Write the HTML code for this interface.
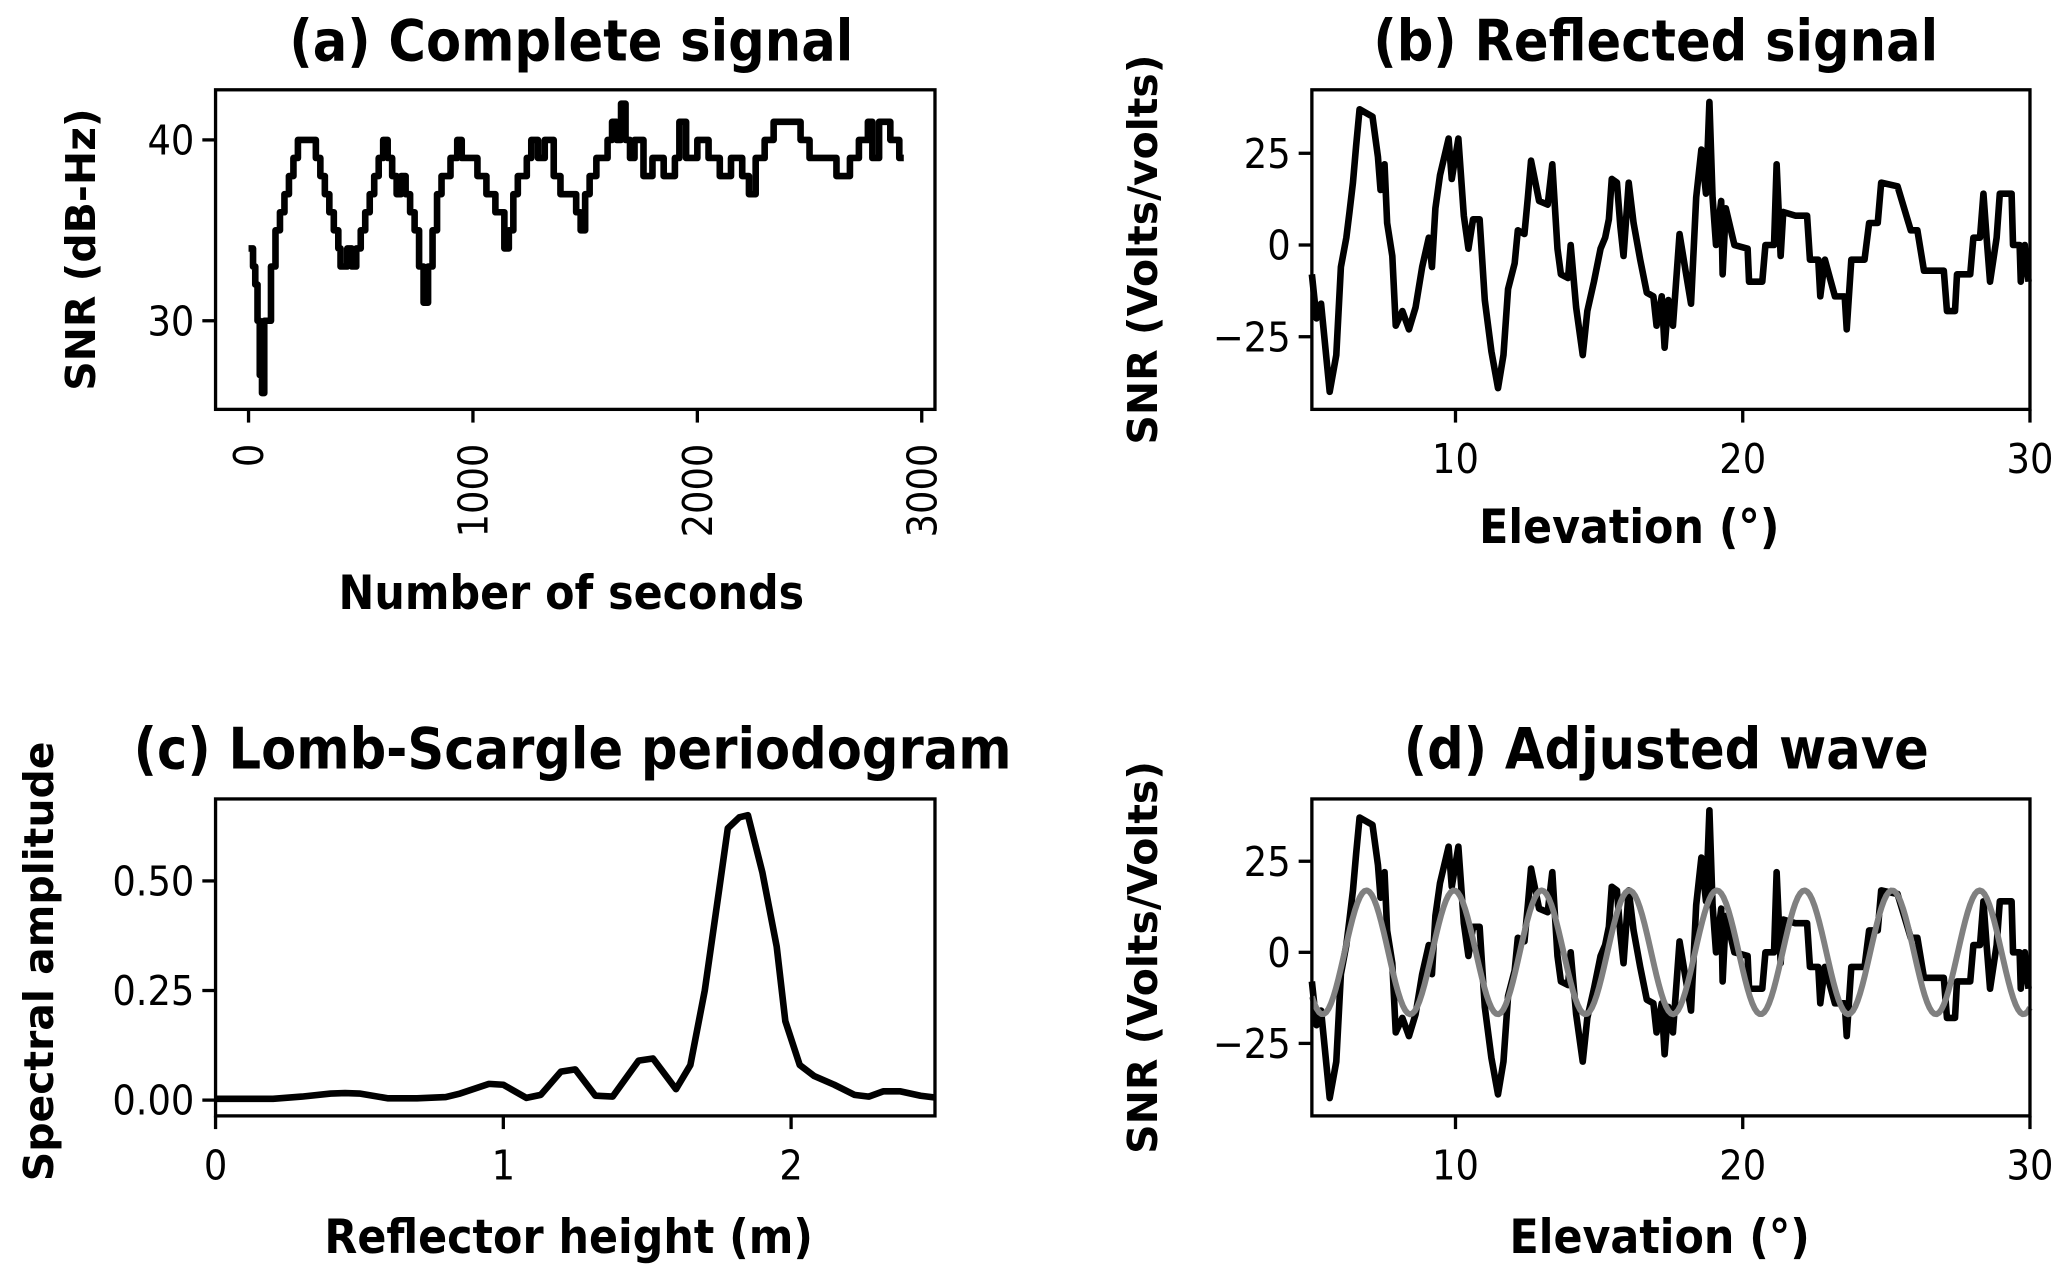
<!DOCTYPE html>
<html><head><meta charset="utf-8"><style>
html,body{margin:0;padding:0;background:#fff;}
svg{display:block;}
.tick{font-family:"DejaVu Sans Condensed","DejaVu Sans","Liberation Sans",sans-serif;font-size:31px;fill:#000;}
.title{font-family:"DejaVu Sans Condensed","DejaVu Sans","Liberation Sans",sans-serif;font-size:43px;font-weight:bold;fill:#000;}
.xl{font-family:"DejaVu Sans Condensed","DejaVu Sans","Liberation Sans",sans-serif;font-size:36px;font-weight:bold;fill:#000;}
.yl{font-family:"DejaVu Sans","Liberation Sans",sans-serif;font-size:31px;font-weight:bold;fill:#000;}
</style></head><body>
<svg id="fig" width="2067" height="1277" viewBox="0 0 1563 967" preserveAspectRatio="none" xmlns="http://www.w3.org/2000/svg"></svg>
<script>
// ---- Panel (a) data: complete signal (seconds, dB-Hz)
const aTime=[0,20,30,40,50,60,70,90,100,120,140,160,180,200,220,280,300,320,340,360,380,400,410,440,460,480,500,520,540,560,580,600,620,640,660,680,700,720,740,760,780,800,820,840,860,900,930,950,980,1020,1060,1100,1140,1160,1180,1200,1240,1260,1290,1320,1360,1390,1420,1460,1480,1500,1520,1550,1580,1600,1620,1640,1660,1680,1700,1720,1760,1800,1850,1900,1920,1950,2000,2050,2100,2150,2200,2230,2260,2300,2340,2400,2460,2500,2580,2620,2680,2720,2760,2780,2810,2860,2900,2920];
const aSnr=[34,33,32,30,27,26,30,30,33,35,36,37,38,39,40,40,39,38,37,36,35,34,33,34,33,34,35,36,37,38,39,40,39,38,37,38,37,36,35,33,31,33,35,37,38,39,40,39,39,38,37,36,34,35,37,38,39,40,39,40,38,37,37,36,35,37,38,39,39,40,41,40,42,40,39,40,38,39,38,39,41,39,40,39,38,39,38,37,39,40,41,41,40,39,39,38,39,40,41,39,41,40,39,39];
const aXTicks=[0,1000,2000,3000];
const aYTicks=[30,40];
// ---- Panel (b)/(d) data: reflected signal (elevation deg, volts/volts)
const bElev=[5.00,5.16,5.32,5.62,5.85,6.01,6.20,6.31,6.43,6.54,6.66,7.11,7.30,7.39,7.53,7.62,7.80,7.92,8.15,8.38,8.61,8.84,9.07,9.18,9.30,9.46,9.76,9.87,10.10,10.29,10.45,10.61,10.84,11.02,11.25,11.48,11.67,11.83,12.06,12.17,12.40,12.52,12.63,12.91,13.21,13.37,13.55,13.67,13.92,14.01,14.20,14.43,14.59,14.82,15.05,15.21,15.34,15.44,15.62,15.74,15.85,16.03,16.20,16.43,16.66,16.89,17.00,17.18,17.28,17.41,17.57,17.80,18.03,18.20,18.38,18.56,18.72,18.84,18.95,19.07,19.25,19.30,19.41,19.71,20.17,20.22,20.68,20.79,21.09,21.18,21.32,21.41,21.83,22.24,22.34,22.63,22.70,22.86,23.21,23.55,23.62,23.78,24.24,24.40,24.70,24.82,25.39,25.85,26.08,26.31,27.00,27.11,27.39,27.46,27.92,28.03,28.26,28.38,28.49,28.61,28.84,28.95,29.36,29.41,29.64,29.68,29.82,29.95];
const bVal=[-8,-20,-16,-40,-30,-6,2,9,17,27,37,35,24,15,22,6,-3,-22,-18,-23,-17,-6,2,-6,10,19,29,18,29,8,-1,7,7,-15,-29,-39,-30,-12,-5,4,3,13,23,12,11,22,-1,-8,-9,0,-17,-30,-18,-10,-1,2,7,18,17,5,-3,17,6,-4,-13,-14,-22,-14,-28,-15,-22,3,-8,-16,13,26,14,39,13,0,12,-8,10,0,-1,-10,-10,0,0,22,-3,9,8,8,-4,-4,-14,-4,-14,-14,-23,-4,-4,6,6,17,16,4,4,-7,-7,-18,-18,-8,-8,2,2,14,2,-10,2,14,14,0,0,-10,0,-10];
const bXTicks=[10,20,30];
const bYTicks=[-25,0,25];
// ---- Panel (d) fitted wave parameters
const fitAmp=[17];
const fitPeriod=[3.05];
const fitPeakAt=[6.9];
const fitSamples=[300];
// ---- Panel (c) data: Lomb-Scargle
const cHeight=[0,0.2,0.3,0.4,0.45,0.5,0.6,0.7,0.8,0.85,0.95,1.0,1.08,1.13,1.2,1.25,1.32,1.38,1.47,1.52,1.6,1.65,1.7,1.75,1.78,1.82,1.85,1.9,1.95,1.98,2.03,2.08,2.15,2.22,2.27,2.32,2.38,2.45,2.5];
const cAmp=[0.003,0.003,0.008,0.015,0.016,0.015,0.004,0.004,0.007,0.015,0.037,0.035,0.005,0.012,0.065,0.07,0.01,0.008,0.09,0.095,0.025,0.08,0.25,0.48,0.62,0.645,0.65,0.52,0.35,0.18,0.08,0.055,0.035,0.012,0.008,0.02,0.02,0.01,0.006];
const cXTicks=[0,1,2];
const cYTicks=[0,0.25,0.5];

const NS="http://www.w3.org/2000/svg";
const svg=document.getElementById('fig');
function mk(tag,attrs,parent){const e=document.createElementNS(NS,tag);for(const k in attrs)e.setAttribute(k,attrs[k]);(parent||svg).appendChild(e);return e;}
function scale(d0,d1,r0,r1){return v=>r0+(v-d0)/(d1-d0)*(r1-r0);}

function panel(o){
  const g=mk('g',{});
  
  
  const sx=scale(o.xd[0],o.xd[1],o.L,o.R), sy=scale(o.yd[0],o.yd[1],o.B,o.T);
  o.series.forEach(s=>{
    let d='';
    for(let i=0;i<s.x.length;i++){
      const X=sx(s.x[i]).toFixed(2),Y=sy(s.y[i]).toFixed(2);
      if(i===0)d+='M'+X+','+Y;
      else if(s.step){d+='H'+X+'V'+Y;}
      else d+='L'+X+','+Y;
    }
    const p=mk('path',{d:d,fill:'none',stroke:s.color,'stroke-width':s.w,'stroke-linejoin':'round'},g);
    
    
  });
  const fr=mk('rect',{x:o.L,y:o.T,width:o.R-o.L,height:o.B-o.T,fill:'none',stroke:'#000','stroke-width':2.5},g);
  
  
  o.xt.forEach(v=>{
    const X=sx(v);
    const t=mk('line',{x1:X,x2:X,y1:o.B,y2:o.B+10,stroke:'#000','stroke-width':2.5},g);
    
    
    let lab;
    if(o.rot){lab=mk('text',{class:'tick',x:0,y:0,'text-anchor':'end',transform:'translate('+(X+11)+','+(o.B+26)+') rotate(-90)'},g);}
    else lab=mk('text',{class:'tick',x:X,y:o.B+48,'text-anchor':'middle'},g);
    lab.textContent=o.xf(v);
    
    
  });
  o.yt.forEach(v=>{
    const Y=sy(v);
    const t=mk('line',{x1:o.L-10,x2:o.L,y1:Y,y2:Y,stroke:'#000','stroke-width':2.5},g);
    
    
    const lab=mk('text',{class:'tick',x:o.L-16,y:Y+11,'text-anchor':'end'},g);
    lab.textContent=o.yf(v);
    
    
  });
  const ti=mk('text',{class:'title',x:o.tx,y:o.ty,'text-anchor':'middle'},g);
  ti.textContent=o.title;
  
  
  const xl=mk('text',{class:'xl',x:o.xlx,y:o.xly,'text-anchor':'middle'},g);
  xl.textContent=o.xlabel;
  
  
  const yl=mk('text',{class:'yl',x:0,y:0,'text-anchor':'middle',transform:'translate('+o.ylx+','+o.yly+') rotate(-90)'},g);
  yl.textContent=o.ylabel;
  
  
}
const minus=v=>v<0?'\u2212'+Math.abs(v):String(v);

panel({name:'panel-a-complete-signal',L:163,R:707,T:68,B:310,xd:[-147,3059],yd:[25.1,42.77],
  series:[{x:aTime,y:aSnr,step:true,color:'#000',w:5,name:'snr-line'}],
  xt:aXTicks,yt:aYTicks,rot:true,xf:String,yf:String,
  title:'(a) Complete signal',tx:432,ty:46,xlabel:'Number of seconds',xlx:432,xly:461,
  ylabel:'SNR (dB-Hz)',ylx:72,yly:189});

panel({name:'panel-b-reflected-signal',L:992,R:1535,T:68,B:310,xd:[5,30],yd:[-44.8,42.3],
  series:[{x:bElev,y:bVal,step:false,color:'#000',w:5,name:'reflected-line'}],
  xt:bXTicks,yt:bYTicks,xf:String,yf:minus,
  title:'(b) Reflected signal',tx:1252,ty:46,xlabel:'Elevation (°)',xlx:1232,xly:411,
  ylabel:'SNR (Volts/volts)',ylx:875,yly:189});

panel({name:'panel-c-lomb-scargle',L:163,R:707,T:605,B:845,xd:[0,2.5],yd:[-0.036,0.687],
  series:[{x:cHeight,y:cAmp,step:false,color:'#000',w:5,name:'periodogram-line'}],
  xt:cXTicks,yt:cYTicks,xf:String,yf:v=>v.toFixed(2),
  title:'(c) Lomb-Scargle periodogram',tx:433,ty:582,xlabel:'Reflector height (m)',xlx:430,xly:949,
  ylabel:'Spectral amplitude',ylx:40,yly:728});

const fx=[],fy=[];
for(let i=0;i<=fitSamples[0];i++){const e=5+25*i/fitSamples[0];fx.push(e);fy.push(fitAmp[0]*Math.cos(2*Math.PI*(e-fitPeakAt[0])/fitPeriod[0]));}
panel({name:'panel-d-adjusted-wave',L:992,R:1535,T:605,B:845,xd:[5,30],yd:[-44.9,42.1],
  series:[{x:bElev,y:bVal,step:false,color:'#000',w:5,name:'reflected-line'},
          {x:fx,y:fy,step:false,color:'#808080',w:4.5,name:'fitted-wave-line'}],
  xt:bXTicks,yt:bYTicks,xf:String,yf:minus,
  title:'(d) Adjusted wave',tx:1260,ty:582,xlabel:'Elevation (°)',xlx:1255,xly:949,
  ylabel:'SNR (Volts/Volts)',ylx:875,yly:725});
</script>
</body></html>
